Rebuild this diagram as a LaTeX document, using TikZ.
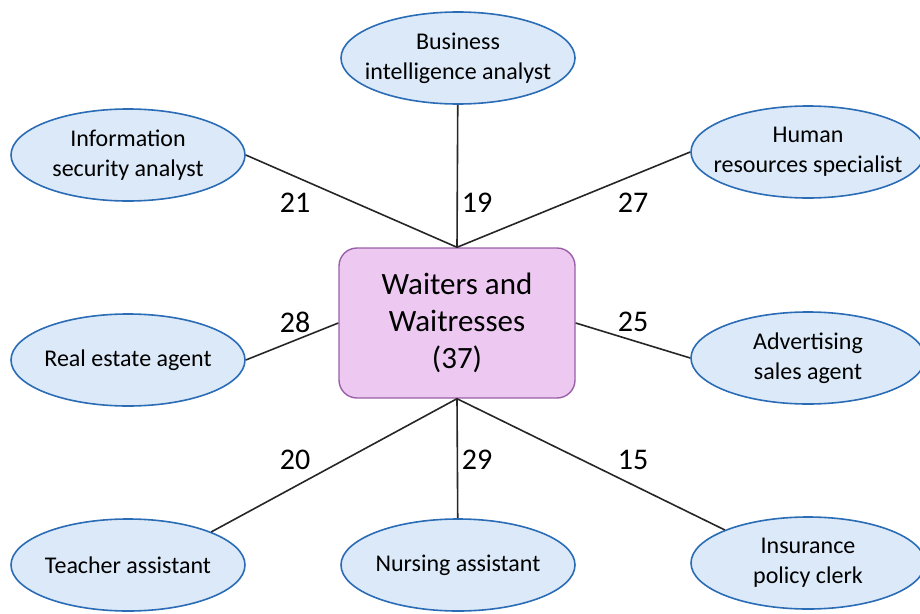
\documentclass[tikz,border=0pt]{standalone}
\usepackage{fontspec}
\setmainfont{Carlito}
\usetikzlibrary{shapes.geometric}
\definecolor{ellfill}{HTML}{DCE9F8}
\definecolor{ellline}{HTML}{2A6CB5}
\definecolor{boxfill}{HTML}{EDC9F2}
\definecolor{boxline}{HTML}{9A5FA8}
\tikzset{
  job/.style={ellipse, draw=ellline, line width=1.6pt, fill=ellfill, minimum width=234pt, minimum height=92pt, inner xsep=-14pt, inner ysep=0pt, align=center, font=\fontsize{24}{30}\selectfont},
  center/.style={draw=boxline, line width=1.4pt, fill=boxfill, rounded corners=18pt, minimum width=236pt, minimum height=150pt, align=center, font=\fontsize{31}{37}\selectfont},
  link/.style={line width=1.6pt, black!85},
  num/.style={font=\fontsize{30}{34}\selectfont}
}
\begin{document}
\begin{tikzpicture}[x=1pt,y=-1pt]
\useasboundingbox (0,0) rectangle (920,613);

\node[center] (waiters) at (457,323) {Waiters and\\Waitresses\\(37)};

\node[job] (business) at (458,58) {Business\\intelligence analyst};
\node[job] (infosec) at (128,155) {Information\\security analyst};
\node[job] (hr) at (808,152) {Human\\resources specialist};
\node[job] (realestate) at (128,360) {Real estate agent};
\node[job] (advert) at (808,358) {Advertising\\sales agent};
\node[job] (teacher) at (128,565) {Teacher assistant};
\node[job] (nursing) at (458,565) {Nursing assistant};
\node[job] (insurance) at (808,563) {Insurance\\policy clerk};

\draw[link] (waiters.north) -- (infosec.east);
\draw[link] (waiters.north) -- (business);
\draw[link] (waiters.north) -- (hr.west);
\draw[link] (waiters.west) -- (realestate.east);
\draw[link] (waiters.east) -- (advert.west);
\draw[link] (waiters.south) -- (teacher.north east);
\draw[link] (waiters.south) -- (nursing);
\draw[link] (waiters.south) -- (insurance.north west);

\node[num] (n21) at (295,203) {21};
\node[num] (n19) at (477,203) {19};
\node[num] (n27) at (633,203) {27};
\node[num] (n28) at (295,322) {28};
\node[num] (n25) at (633,322) {25};
\node[num] (n20) at (295,460) {20};
\node[num] (n29) at (477,460) {29};
\node[num] (n15) at (633,460) {15};
\end{tikzpicture}
\end{document}
